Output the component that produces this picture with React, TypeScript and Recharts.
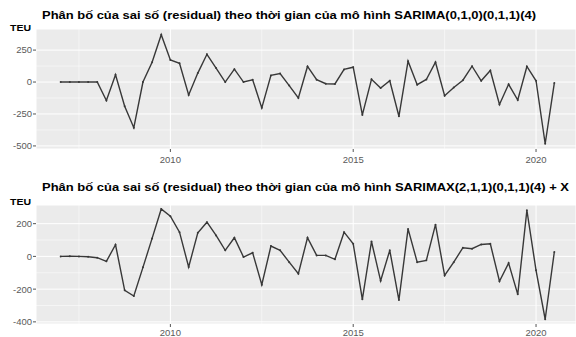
import {
  CartesianGrid,
  Line,
  LineChart,
  ReferenceLine,
  XAxis,
  YAxis,
} from "recharts";

const years = [2007, 2008, 2009, 2010, 2011, 2012, 2013, 2014, 2015, 2016, 2017, 2018, 2019, 2020];
const quarterOffsets = [0, 0.25, 0.5, 0.75];
const nObs = 55; // 2007Q1 .. 2020Q3

const sarimaResid = [
  0, 0, 0, 0, 0, -145, 57, -190, -357, 0,
  155, 370, 173, 147, -101, 70, 217, 109, 0, 101,
  0, 18, -202, 52, 67, -28, -124, 122, 18, -13,
  -15, 99, 116, -257, 22, -47, 10, -268, 163, -21,
  20, 155, -107, -43, 14, 124, 10, 90, -176, -18,
  -141, 122, 10, -483, -8,
];

const sarimaxResid = [
  0, 1, 0, -2, -8, -30, 71, -207, -242, -67,
  110, 290, 246, 148, -65, 144, 209, 128, 37, 114,
  -4, 22, -173, 63, 37, -35, -106, 114, 6, 6,
  -18, 148, 77, -262, 91, -149, 37, -267, 168, -35,
  -24, 194, -116, -35, 53, 47, 73, 77, -152, -41,
  -232, 282, -85, -384, 27,
];

const xTicks = [2010, 2015, 2020];
const xMinor = [2007.5, 2012.5, 2017.5];
const topTicks = [-500, -250, 0, 250];
const topMinor = [-375, -125, 125];
const bottomTicks = [-400, -200, 0, 200];
const bottomMinor = [-300, -100, 100];

const titleTop =
  "Phân bố của sai số (residual) theo thời gian của mô hình SARIMA(0,1,0)(0,1,1)(4)";
const titleBottom =
  "Phân bố của sai số (residual) theo thời gian của mô hình SARIMAX(2,1,1)(0,1,1)(4) + X";

const times = years.flatMap((y) => quarterOffsets.map((q) => y + q)).slice(0, nObs);
const topData = times.map((t, i) => ({ t, v: sarimaResid[i] }));
const bottomData = times.map((t, i) => ({ t, v: sarimaxResid[i] }));

const FONT = '"Liberation Sans", Arial, sans-serif';
const tickStyle = { fontSize: 9.5, fill: "#5a5a5a", fontFamily: FONT };

function Panel({
  data,
  domain,
  ticks,
  minor,
  marginTop,
  height,
  tickMargin,
}: {
  data: Array<{ t: number; v: number }>;
  domain: [number, number];
  ticks: number[];
  minor: number[];
  marginTop: number;
  height: number;
  tickMargin: number;
}) {
  return (
    <LineChart
      width={576}
      height={height}
      data={data}
      margin={{ top: marginTop, right: 0, bottom: 0, left: 0 }}
    >
      <CartesianGrid fill="#EBEBEB" stroke="#ffffff" strokeWidth={1} />
      {minor.map((m) => (
        <ReferenceLine key={"y" + m} y={m} stroke="#ffffff" strokeWidth={0.5} />
      ))}
      {xMinor.map((m) => (
        <ReferenceLine key={"x" + m} x={m} stroke="#ffffff" strokeWidth={0.5} />
      ))}
      <XAxis
        dataKey="t"
        type="number"
        domain={[2006.325, 2021.093]}
        ticks={xTicks}
        interval={0}
        height={20}
        axisLine={false}
        tickSize={3}
        tickMargin={tickMargin}
        tickLine={{ stroke: "#555" }}
        tick={tickStyle}
      />
      <YAxis
        type="number"
        domain={domain}
        ticks={ticks}
        width={36}
        axisLine={false}
        tickSize={3}
        tickMargin={1}
        tickLine={{ stroke: "#555" }}
        tick={tickStyle}
        allowDataOverflow
      />
      <Line
        type="linear"
        dataKey="v"
        stroke="#383838"
        strokeWidth={1.4}
        dot={{ r: 1, fill: "#383838", stroke: "none" }}
        isAnimationActive={false}
      />
    </LineChart>
  );
}

export default function App() {
  return (
    <>
      <style>{"html,body{margin:0;padding:0;overflow:hidden;}"}</style>
      <div
        style={{
          position: "fixed",
          left: 0,
          top: 0,
          width: 576,
          height: 337,
          overflow: "hidden",
          background: "#ffffff",
        }}
      >
        <div style={{ position: "absolute", left: 0, top: 0 }}>
          <Panel
            data={topData}
            domain={[-524, 415]}
            ticks={topTicks}
            minor={topMinor}
            marginTop={29}
            height={169}
            tickMargin={4}
          />
        </div>
        <div style={{ position: "absolute", left: 0, top: 170 }}>
          <Panel
            data={bottomData}
            domain={[-413, 314]}
            ticks={bottomTicks}
            minor={bottomMinor}
            marginTop={35}
            height={174}
            tickMargin={2}
          />
        </div>
        <svg
          width={576}
          height={337}
          style={{ position: "absolute", left: 0, top: 0, pointerEvents: "none" }}
        >
          <g fontFamily={FONT} fontWeight="bold" fill="#000">
            <text x={42} y={19} fontSize={11.5} textLength={494} lengthAdjust="spacingAndGlyphs">
              {titleTop}
            </text>
            <text x={42} y={191} fontSize={11.5} textLength={527} lengthAdjust="spacingAndGlyphs">
              {titleBottom}
            </text>
            <text x={10} y={30.5} fontSize={9.5} textLength={21} lengthAdjust="spacingAndGlyphs">
              TEU
            </text>
            <text x={10} y={204.5} fontSize={9.5} textLength={21} lengthAdjust="spacingAndGlyphs">
              TEU
            </text>
          </g>
        </svg>
      </div>
    </>
  );
}
